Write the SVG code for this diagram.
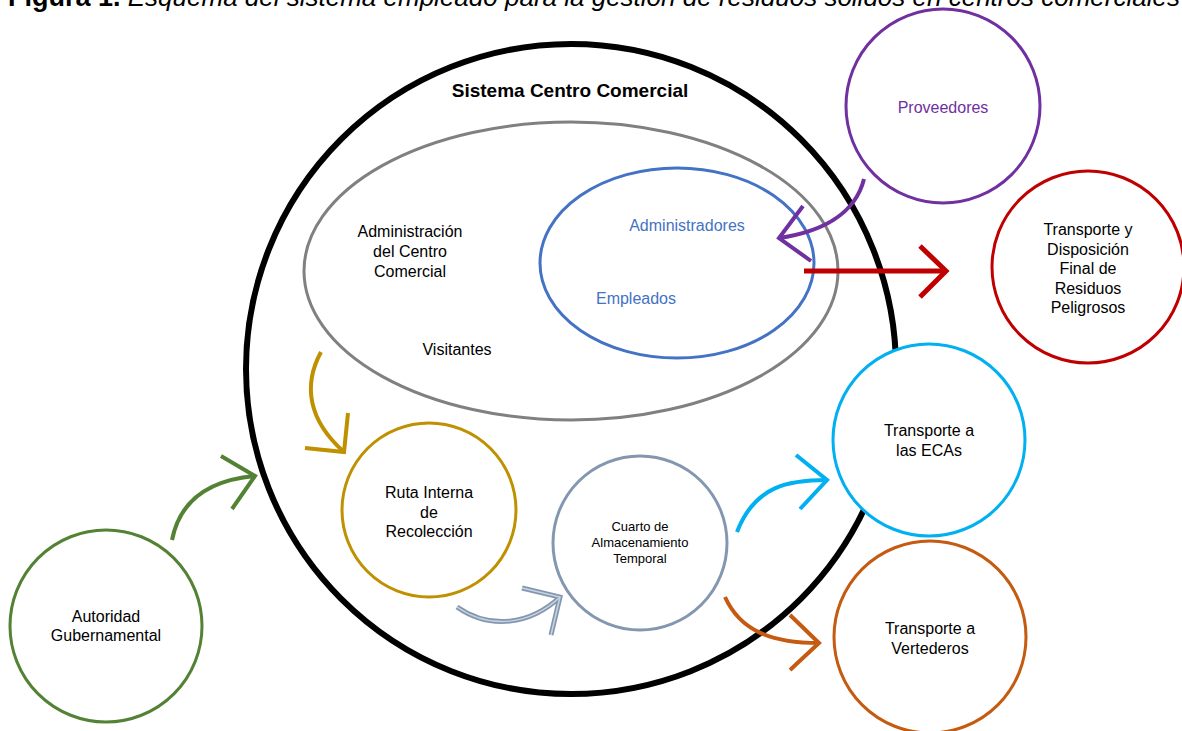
<svg xmlns="http://www.w3.org/2000/svg" width="1182" height="731" viewBox="0 0 1182 731">
<style>
text{font-family:"Liberation Sans",Arial,sans-serif;font-size:16px;fill:#000;text-anchor:middle}
.ring{fill:#fff;stroke-width:3}
.arr{fill:none;stroke-linecap:butt;stroke-linejoin:miter}
</style>
<rect width="1182" height="731" fill="#fff"/>
<text x="8" y="6" style="text-anchor:start;font-size:27px"><tspan font-weight="bold">Figura 1.</tspan><tspan font-style="italic" style="font-size:26px"> Esquema del sistema empleado para la gestión de residuos sólidos en centros comerciales</tspan></text>

<g id="sistema">
<circle cx="571" cy="369" r="325" fill="none" stroke="#000" stroke-width="6"/>
<text x="570" y="97" style="font-weight:bold;font-size:19px">Sistema Centro Comercial</text>
</g>
<g id="administracion">
<ellipse cx="571" cy="271" rx="267" ry="149" fill="none" stroke-width="3" stroke="#808080"/>
<text x="410" y="237">Administración</text>
<text x="410" y="257">del Centro</text>
<text x="410" y="277">Comercial</text>
<text x="457" y="355">Visitantes</text>
</g>
<g id="personal">
<ellipse cx="677" cy="263" rx="137" ry="95" fill="none" stroke-width="3" stroke="#4472C4"/>
<text x="687" y="231" style="fill:#4472C4">Administradores</text>
<text x="636" y="304" style="fill:#4472C4">Empleados</text>
</g>
<g id="proveedores">
<circle cx="943" cy="106" r="97" class="ring" stroke="#7030A0"/>
<text x="943" y="113" style="fill:#7030A0">Proveedores</text>
</g>
<g id="peligrosos">
<circle cx="1088" cy="267" r="96" class="ring" stroke="#C00000"/>
<text x="1088" y="235">Transporte y</text>
<text x="1088" y="255">Disposición</text>
<text x="1088" y="274">Final de</text>
<text x="1088" y="294">Residuos</text>
<text x="1088" y="313">Peligrosos</text>
</g>
<g id="ecas">
<circle cx="929" cy="440" r="96" class="ring" stroke="#00B0F0"/>
<text x="929" y="436">Transporte a</text>
<text x="929" y="456">las ECAs</text>
</g>
<g id="vertederos">
<circle cx="930" cy="637" r="96" class="ring" stroke="#C55A11"/>
<text x="930" y="634">Transporte a</text>
<text x="930" y="654">Vertederos</text>
</g>
<g id="autoridad">
<circle cx="106" cy="626" r="96" class="ring" stroke="#548235"/>
<text x="106" y="622">Autoridad</text>
<text x="106" y="641">Gubernamental</text>
</g>
<g id="ruta">
<circle cx="429" cy="510" r="87" class="ring" stroke="#BF9000"/>
<text x="429" y="498">Ruta Interna</text>
<text x="429" y="518">de</text>
<text x="429" y="537">Recolección</text>
</g>
<g id="cuarto">
<circle cx="640" cy="543" r="87" class="ring" stroke="#8497B0"/>
<text x="640" y="531" style="font-size:13px">Cuarto de</text>
<text x="640" y="547" style="font-size:13px">Almacenamiento</text>
<text x="640" y="563" style="font-size:13px">Temporal</text>
</g>

<g id="connectors">
<g stroke="#7030A0" class="arr" style="stroke-width:4">
<path d="M864,179 C855,215 820,232 779,238"/>
<polyline points="803,206 779,238 811,261"/>
</g>
<g stroke="#C00000" class="arr" style="stroke-width:5">
<path d="M804,271 H946"/>
<polyline points="920,246 946,271 920,297"/>
</g>
<g stroke="#548235" class="arr" style="stroke-width:4">
<path d="M172,540 C180,500 210,480 255,476"/>
<polyline points="221,456 255,476 232,509"/>
</g>
<g stroke="#BF9000" class="arr" style="stroke-width:4">
<path d="M321,352 C303,385 308,420 344,452"/>
<polyline points="348,413 344,452 305,448"/>
</g>
<g stroke="#8497B0" class="arr" style="stroke-width:5">
<path d="M457,607 C490,630 530,625 560,597"/>
<polyline points="522,588 560,597 551,635"/>
</g>
<g stroke="#C9D3E0" class="arr" style="stroke-width:1.5">
<path d="M457,607 C490,630 530,625 560,597"/>
<polyline points="522,588 560,597 551,635"/>
</g>
<g stroke="#00B0F0" class="arr" style="stroke-width:4">
<path d="M737,532 C755,485 790,480 827,480"/>
<polyline points="796,455 827,480 800,509"/>
</g>
<g stroke="#C55A11" class="arr" style="stroke-width:4">
<path d="M725,597 C740,630 770,643 819,643"/>
<polyline points="790,615 819,643 790,670"/>
</g>
</g>
</svg>
